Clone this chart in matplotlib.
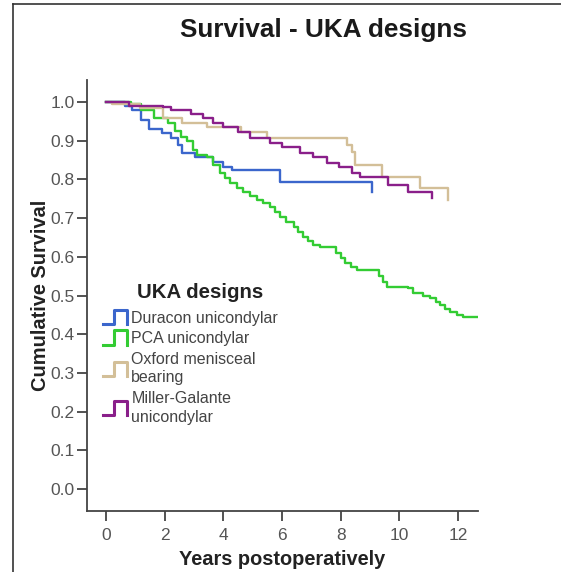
import numpy as np
import matplotlib
matplotlib.use('Agg')
import matplotlib.pyplot as plt
from matplotlib.lines import Line2D
from matplotlib.legend_handler import HandlerBase

plt.rcParams['font.family'] = ['Liberation Sans', 'DejaVu Sans']

# Kaplan-Meier step points (years, cumulative survival)
duracon_t = [0, 0.65, 0.9, 1.2, 1.45, 1.9, 2.2, 2.45, 2.6, 3.05, 3.65, 4.0, 4.3, 5.93, 9.07, 9.07]
duracon_s = [1.0, 0.99, 0.98, 0.955, 0.93, 0.92, 0.907, 0.89, 0.868, 0.858, 0.845, 0.832, 0.825, 0.793, 0.793, 0.767]

pca_t = [0, 0.85, 1.2, 1.65, 2.1, 2.35, 2.55, 2.76, 2.95, 3.1, 3.45, 3.65, 3.9, 4.05, 4.22, 4.45,
         4.67, 4.9, 5.15, 5.35, 5.6, 5.75, 5.93, 6.15, 6.4, 6.55, 6.72, 6.9, 7.06, 7.3, 7.85, 8.0,
         8.15, 8.35, 8.55, 9.3, 9.45, 9.58, 10.3, 10.46, 10.8, 11.05, 11.25, 11.4, 11.55, 11.73,
         11.95, 12.17, 12.65]
pca_s = [1.0, 0.995, 0.98, 0.96, 0.945, 0.925, 0.91, 0.9, 0.875, 0.863, 0.858, 0.837, 0.817, 0.805,
         0.79, 0.778, 0.767, 0.757, 0.747, 0.738, 0.729, 0.715, 0.703, 0.69, 0.677, 0.664, 0.651,
         0.64, 0.63, 0.625, 0.61, 0.597, 0.584, 0.575, 0.566, 0.55, 0.535, 0.522, 0.519, 0.506,
         0.5, 0.493, 0.484, 0.475, 0.466, 0.457, 0.45, 0.444, 0.444]

oxford_t = [0, 0.2, 1.15, 1.95, 2.6, 3.45, 4.6, 5.5, 8.2, 8.4, 8.5, 9.4, 10.7, 11.65, 11.65]
oxford_s = [1.0, 0.995, 0.985, 0.96, 0.946, 0.935, 0.922, 0.907, 0.89, 0.87, 0.837, 0.806, 0.778, 0.778, 0.747]

miller_t = [0, 0.8, 1.95, 2.2, 2.9, 3.3, 3.65, 4.0, 4.5, 4.9, 5.6, 6.0, 6.6, 7.05, 7.55, 7.95,
            8.4, 8.65, 9.6, 10.3, 11.1, 11.1]
miller_s = [1.0, 0.99, 0.987, 0.98, 0.97, 0.96, 0.946, 0.935, 0.922, 0.907, 0.894, 0.884, 0.868,
            0.858, 0.843, 0.832, 0.817, 0.806, 0.785, 0.767, 0.767, 0.752]

labels = ['Duracon unicondylar', 'PCA unicondylar', 'Oxford menisceal\nbearing',
          'Miller-Galante\nunicondylar']
colors = ['#3B66CC', '#33CC33', '#D3BF98', '#8A1F8A']


class HandlerStep(HandlerBase):
    # little "_|-|" step icon like the SPSS legend
    def create_artists(self, legend, orig_handle, xdescent, ydescent, width, height, fontsize, trans):
        x0 = -xdescent
        y0 = -ydescent - height * 0.15
        xs = [x0, x0 + width * 0.45, x0 + width * 0.45, x0 + width, x0 + width]
        ys = [y0, y0, y0 + height * 1.3, y0 + height * 1.3, y0]
        ln = Line2D(xs, ys, color=orig_handle.get_color(), lw=2.2, transform=trans)
        return [ln]


fig = plt.figure(figsize=(5.61, 5.72), dpi=100)
ax = fig.add_axes([0.155, 0.1066, 0.697, 0.7534])

handles = []
for t, s, c in zip([duracon_t, pca_t, oxford_t, miller_t],
                   [duracon_s, pca_s, oxford_s, miller_s], colors):
    ln, = ax.step(t, s, where='post', color=c, lw=1.7)
    handles.append(ln)

ax.set_xlim(-0.65, 12.68)
ax.set_ylim(-0.057, 1.057)
ax.set_xticks(range(0, 13, 2))
ax.set_yticks(np.arange(0, 1.01, 0.1))
ax.set_yticklabels([f'{v:.1f}' for v in np.arange(0, 1.01, 0.1)])

for side in ['top', 'right']:
    ax.spines[side].set_visible(False)
for side in ['left', 'bottom']:
    ax.spines[side].set_color('#444444')
    ax.spines[side].set_linewidth(1.3)
ax.tick_params(colors='#444444', labelcolor='#555555', labelsize=12.5, length=7, width=1.3, pad=2)
ax.tick_params(axis='x', pad=5)

ax.set_xlabel('Years postoperatively', fontsize=14.4, fontweight='bold', color='#222222', labelpad=5)
ax.set_ylabel('Cumulative Survival', fontsize=14.4, fontweight='bold', color='#222222', labelpad=0)

fig.text(0.576, 0.948, 'Survival - UKA designs', ha='center', va='center',
         fontsize=18.8, fontweight='bold', color='#1a1a1a')

# legend title as separate text so it sits where the original has it
fig.text(137 / 561, 1 - 292 / 572, 'UKA designs', ha='left', va='center',
         fontsize=14.7, fontweight='bold', color='#222222')

leg = ax.legend(handles, labels, handler_map={Line2D: HandlerStep()},
                loc='upper left', bbox_to_anchor=(0.04, 0.465),
                frameon=False, fontsize=11.5, labelspacing=0.35, handlelength=1.55,
                handletextpad=0.25, borderpad=0, borderaxespad=0)
for txt in leg.get_texts():
    txt.set_color('#444444')
    txt.set_linespacing(1.3)

# outer frame on left and top
fig.add_artist(Line2D([13 / 561, 13 / 561], [0, 1 - 4 / 572], transform=fig.transFigure,
                      color='#333333', lw=1.2))
fig.add_artist(Line2D([13 / 561, 1], [1 - 4 / 572, 1 - 4 / 572], transform=fig.transFigure,
                      color='#333333', lw=1.2))

fig.savefig('out.png', dpi=100)
